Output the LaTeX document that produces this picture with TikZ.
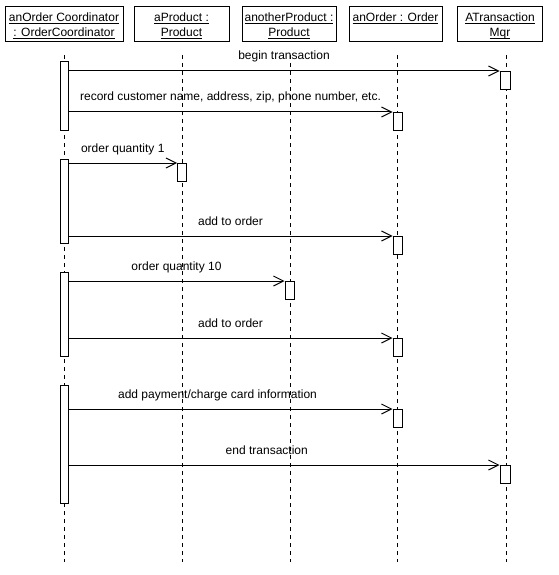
\documentclass[tikz,border=0pt]{standalone}
\usepackage{fontspec}
\setmainfont{Liberation Sans}
\usetikzlibrary{arrows.meta, positioning}

% object name, underlined at a fixed depth
\newcommand{\objname}[1]{\underline{\smash{#1}}\rule[-2pt]{0pt}{13pt}}

\begin{document}
\begin{tikzpicture}[x=1pt, y=-1pt, line width=1pt,
        font=\fontsize{12}{15}\selectfont,
        objbox/.style={draw, align=center, minimum height=35pt, inner sep=0pt},
        lifeline/.style={dash pattern=on 4pt off 4pt},
        actbar/.style={draw, fill=white, anchor=north, inner sep=0pt,
            minimum width=9pt, minimum height=18pt},
        msg/.style={-{Straight Barb[length=10pt, width=10pt]}},
        msglabel/.style={anchor=base, yshift=11pt, inner sep=0pt}]

        \useasboundingbox (0,0) rectangle (558,575);

        % ==========================================
        % Objects
        % ==========================================
        \node[objbox, minimum width=118pt] (coord) at (64,24.5)
            {\objname{anOrder Coordinator}\\\objname{: OrderCoordinator}};
        \node[objbox, minimum width=95pt] (prod) at (181.5,24.5)
            {\objname{aProduct :}\\\objname{Product}};
        \node[objbox, minimum width=94pt] (prod2) at (289,24.5)
            {\objname{anotherProduct :}\\\objname{Product}};
        \node[objbox, minimum width=93pt] (order) at (395.5,24.5)
            {\objname{anOrder : Order}\\\objname{}};
        \node[objbox, minimum width=85pt] (trans) at (500,24.5)
            {\objname{ATransaction}\\\objname{Mqr}};

        % ==========================================
        % Lifelines
        % ==========================================
        \foreach \obj/\x in {coord/64, prod/182, prod2/290, order/397, trans/506} {
            \coordinate (\obj-top) at (\x,55);
            \coordinate (\obj-end) at (\x,562);
            \draw[lifeline] (\obj-top) -- (\obj-end);
        }

        % ==========================================
        % Activations of the coordinator
        % ==========================================
        \node[actbar, minimum width=8pt, minimum height=69pt] (cbar1) at (64,61) {};
        \node[actbar, minimum width=8pt, minimum height=84pt] (cbar2) at (64,159) {};
        \node[actbar, minimum width=8pt, minimum height=84pt] (cbar3) at (64,272) {};
        \node[actbar, minimum width=8pt, minimum height=118pt] (cbar4) at (64,385) {};

        % ==========================================
        % Activations of the receivers
        % ==========================================
        \node[actbar, minimum width=10pt] (tbar1) at (505,71) {};
        \node[actbar] (tbar2) at (397.5,112) {};
        \node[actbar] (tbar3) at (182,163) {};
        \node[actbar] (tbar4) at (397.5,236) {};
        \node[actbar] (tbar5) at (289.5,281) {};
        \node[actbar] (tbar6) at (397.5,338) {};
        \node[actbar] (tbar7) at (397.5,409) {};
        \node[actbar, minimum width=10pt] (tbar8) at (505,465) {};

        % ==========================================
        % Messages
        % ==========================================
        \draw[msg] (cbar1.east |- tbar1.north west) --
            node[msglabel] {begin transaction} (tbar1.north west);
        \draw[msg] (cbar1.east |- tbar2.north west) --
            node[msglabel] {record customer name, address, zip, phone number, etc.} (tbar2.north west);
        \draw[msg] (cbar2.east |- tbar3.north west) --
            node[msglabel] {order quantity 1} (tbar3.north west);
        \draw[msg] (cbar2.east |- tbar4.north west) --
            node[msglabel] {add to order} (tbar4.north west);
        \draw[msg] (cbar3.east |- tbar5.north west) --
            node[msglabel] {order quantity 10} (tbar5.north west);
        \draw[msg] (cbar3.east |- tbar6.north west) --
            node[msglabel] {add to order} (tbar6.north west);
        \draw[msg] (cbar4.east |- tbar7.north west) --
            node[msglabel, pos=.46] {add payment/charge card information} (tbar7.north west);
        \draw[msg] (cbar4.east |- tbar8.north west) --
            node[msglabel, pos=.46] {end transaction} (tbar8.north west);

    \end{tikzpicture}
\end{document}
